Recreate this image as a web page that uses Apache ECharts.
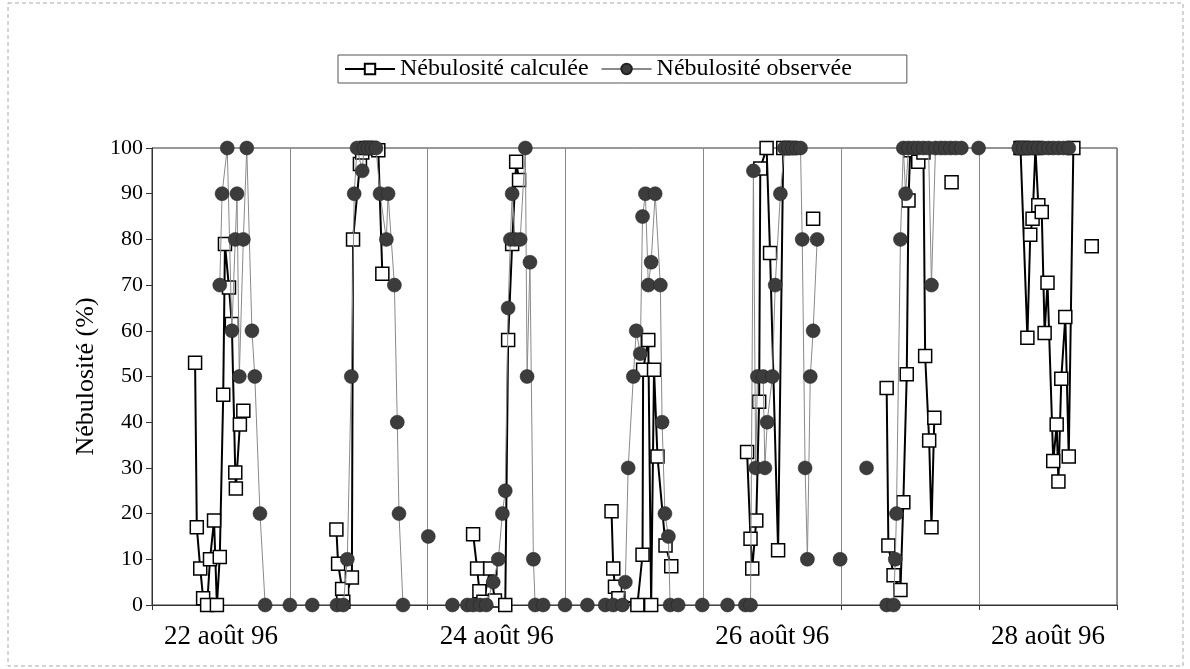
<!DOCTYPE html>
<html>
<head>
<meta charset="utf-8">
<script src="https://cdn.jsdelivr.net/npm/echarts@6/dist/echarts.min.js"></script>
<style>
  html, body { margin: 0; padding: 0; background: #fff; }
  #chart { width: 1190px; height: 669px; }
</style>
</head>
<body>
<div id="chart"></div>
<script>
// hours since 22 août 96 00h, null value = break in the line
var calcTime = [
  7.5, 7.8, 8.4, 8.9, 9.6, 10.1, 10.8, 11.3, 11.8, 12.4, 12.7, 13.4, 13.9, 14.5, 14.6, 15.3, 15.9, 24,
  32.1, 32.4, 33.1, 33.3, 34.8, 35.0, 36.2, 36.6, 37.3, 38.0, 39.4, 40.1, 48,
  55.9, 56.6, 57.0, 57.7, 58.9, 59.7, 61.5, 62.0, 62.7, 63.4, 63.9, 72,
  80.0, 80.3, 80.6, 81.2, 84.5, 85.4, 85.5, 86.4, 86.9, 87.4, 88.0, 89.4, 90.4, 96,
  103.6, 104.2, 104.5, 105.2, 105.7, 105.9, 107.0, 107.6, 109.0, 109.9, 111.1, 113, 115.1, 117,
  127.9, 128.2, 129.1, 130.3, 130.8, 131.4, 131.7, 132.0, 133.4, 134.3, 134.6, 135.3, 135.7, 136.2, 137.5, 139.2, 141,
  151.2, 151.5, 152.4, 152.9, 153.3, 153.8, 154.3, 154.9, 155.4, 155.9, 156.9, 157.5, 157.8, 158.3, 159.0, 159.6, 160.4, 162, 163.6
];
var calcValue = [
  53, 17, 8, 1.5, 0, 10, 18.5, 0, 10.5, 46, 79, 69.5, 61.5, 29, 25.5, 39.5, 42.5, null,
  16.5, 9, 3.5, 0.7, 6, 80, 96.5, 99, 100, 100, 99.5, 72.5, null,
  15.5, 8, 3, 0.7, 8, 1, 0, 58, 79, 97, 93, null,
  20.5, 8, 4, 1.5, 0, 11, 51.5, 58, 0, 51.5, 32.5, 13, 8.5, null,
  33.5, 14.5, 8, 18.5, 44.5, 95.5, 100, 77, 12, 100, 100, null, 84.5, null,
  47.5, 13, 6.5, 3.3, 22.5, 50.5, 88.5, 99.5, 97, 99, 54.5, 36, 17, 41, null, 92.5, null,
  100, 100, 58.5, 81, 84.5, 100, 87.5, 86, 59.5, 70.5, 31.5, 39.5, 27, 49.5, 63, 32.5, 100, null, 78.5
];

var obsTime = [
  11.8, 12.2, 13.1, 13.9, 14.5, 14.8, 15.2, 15.9, 16.5, 17.4, 17.9, 18.8, 19.7, 24.0, 27.9,
  32.2, 33.3, 34.0, 34.7, 35.2, 35.7, 36.6, 36.9, 37.6, 38.3, 39.0, 39.7, 40.8, 41.1, 42.2, 42.7, 43.0, 43.7, 46, 48.1, 50,
  52.3, 54.9, 55.9, 57.1, 58.2, 59.4, 60.3, 61.0, 61.5, 62.0, 62.4, 62.7, 63.2, 64.1, 65.0, 65.3, 65.8, 66.4, 66.7, 68.1, 71.9,
  75.8, 78.9, 80.3, 81.9, 82.4, 82.9, 83.8, 84.3, 85.0, 85.4, 85.9, 86.4, 86.9, 87.6, 88.5, 88.8, 89.3, 89.9, 90.2, 91.6, 95.8,
  100.2, 103.3, 104.2, 104.7, 105.1, 105.4, 106.4, 106.7, 107.1, 108.0, 108.5, 109.4, 110.1, 110.8, 111.5, 112.2, 112.9,
  113.2, 113.7, 114.1, 114.6, 115.1, 115.8, 117, 119.8, 122, 124.4, 126,
  127.9, 129.1, 129.4, 129.6, 130.3, 130.8, 131.2, 131.7, 132.6, 133.4, 134.3, 135.2, 135.7, 136.4, 137.3, 138.1, 139.0,
  139.9, 140.9, 143.9, 150.9, 151.7, 152.6, 153.5, 154.3, 155.2, 156.1, 156.9, 157.8, 158.7, 159.6
];
var obsValue = [
  70, 90, 100, 60, 80, 90, 50, 80, 100, 60, 50, 20, 0, 0, 0,
  0, 0, 10, 50, 90, 100, 95, 100, 100, 100, 100, 90, 80, 90, 70, 40, 20, 0, null, 15, null,
  0, 0, 0, 0, 0, 5, 10, 20, 25, 65, 80, 90, 80, 80, 100, 50, 75, 10, 0, 0, 0,
  0, 0, 0, 0, 5, 30, 50, 60, 55, 85, 90, 70, 75, 90, 70, 40, 20, 15, 0, 0, 0,
  0, 0, 0, 95, 30, 50, 50, 30, 40, 50, 70, 90, 100, 100, 100, 100, 100,
  80, 30, 10, 50, 60, 80, null, 10, null, 30, null,
  0, 0, 10, 20, 80, 100, 90, 100, 100, 100, 100, 100, 70, 100, 100, 100, 100,
  100, 100, 100, 100, 100, 100, 100, 100, 100, 100, 100, 100, 100, 100
];

var dayLabels = ['22 août 96', '', '24 août 96', '', '26 août 96', '', '28 août 96'];

function pairs(times, values) {
  return times.map(function (t, i) {
    return [t, values[i] == null ? '-' : values[i]];
  });
}

var serif = 'Liberation Serif, Times New Roman, serif';
var chart = echarts.init(document.getElementById('chart'));

chart.setOption({
  animation: false,
  backgroundColor: '#fff',
  graphic: [{
    type: 'rect',
    shape: { x: 8, y: 3, width: 1175, height: 663 },
    style: { fill: 'none', stroke: '#aaa', lineWidth: 1, lineDash: [4, 3] },
    silent: true
  }],
  legend: {
    left: 338,
    top: 55,
    padding: [2, 55, 2, 6],
    itemGap: 12,
    itemWidth: 50,
    itemHeight: 13,
    borderColor: '#555',
    borderWidth: 1,
    textStyle: { fontFamily: serif, fontSize: 24, color: '#000' },
    data: ['Nébulosité calculée', 'Nébulosité observée']
  },
  grid: {
    left: 152, right: 73, top: 148, bottom: 64,
    show: true, borderColor: '#333', borderWidth: 1
  },
  xAxis: [{
    type: 'value',
    min: 0, max: 168, interval: 24,
    axisLine: { show: true, lineStyle: { color: '#333' } },
    axisTick: { show: true, length: 5, lineStyle: { color: '#333' } },
    axisLabel: { show: false },
    splitLine: { show: true, lineStyle: { color: '#888', width: 1 } }
  }, {
    type: 'category',
    position: 'bottom',
    data: dayLabels,
    boundaryGap: true,
    axisLine: { show: false },
    axisTick: { show: false },
    splitLine: { show: false },
    axisLabel: { interval: 0, margin: 18, fontFamily: serif, fontSize: 27, color: '#000' }
  }],
  yAxis: {
    type: 'value',
    min: 0, max: 100, interval: 10,
    name: 'Nébulosité (%)',
    nameLocation: 'middle',
    nameRotate: 90,
    nameGap: 44,
    nameTextStyle: { fontFamily: serif, fontSize: 26, color: '#000' },
    axisLine: { show: true, lineStyle: { color: '#333' } },
    axisTick: { show: true, length: 6, lineStyle: { color: '#333' } },
    axisLabel: { margin: 9, fontFamily: serif, fontSize: 22, color: '#000' },
    splitLine: { show: false }
  },
  series: [{
    name: 'Nébulosité calculée',
    type: 'line',
    xAxisIndex: 0,
    data: pairs(calcTime, calcValue),
    connectNulls: false,
    showAllSymbol: true,
    symbol: 'rect',
    symbolSize: 13,
    lineStyle: { color: '#000', width: 2 },
    itemStyle: { color: '#fff', borderColor: '#000', borderWidth: 1.5 },
    z: 2
  }, {
    name: 'Nébulosité observée',
    type: 'line',
    xAxisIndex: 0,
    data: pairs(obsTime, obsValue),
    connectNulls: false,
    showAllSymbol: true,
    symbol: 'circle',
    symbolSize: 14,
    lineStyle: { color: '#8a8a8a', width: 1 },
    itemStyle: { color: '#3c3c3c', borderColor: '#222', borderWidth: 0.5 },
    z: 3
  }]
});
</script>
</body>
</html>
